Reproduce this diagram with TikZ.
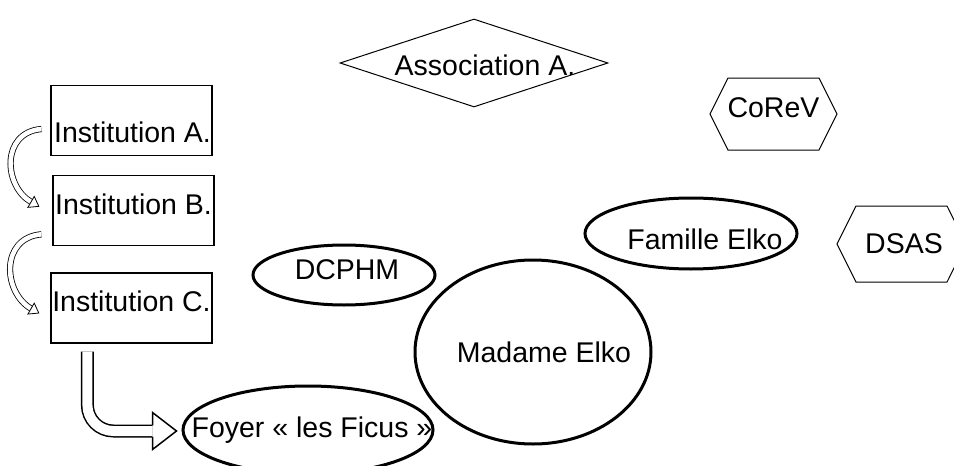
\documentclass[tikz,border=0pt]{standalone}
\usepackage{fontspec}
\setmainfont{Liberation Sans}
\usepackage{tikz}
\tikzset{inst node/.style={rectangle,draw,line width=0.6pt,minimum width=80.5pt,minimum height=35pt,inner sep=0pt},
	oval node/.style={ellipse,draw,line width=1.5pt,inner sep=0pt},
	hex node/.style={signal,signal to=west and east,signal pointer angle=127,draw,line width=0.5pt,inner sep=0pt},
	asso node/.style={diamond,draw,line width=0.5pt,inner sep=0pt,aspect=3,minimum width=134pt,minimum height=44pt},
	turn arrow/.style={double=white,double distance=2.3pt,line width=0.4pt,-{Triangle[open,length=5pt,width=7pt]}},
	bent shaft/.style={double=white,double distance=5pt,line width=0.75pt,rounded corners=13pt},
	every label/.style={inner sep=0pt,text depth=0pt},
}
\usetikzlibrary{positioning,calc,shapes.geometric,shapes.symbols,arrows.meta}

\begin{document}
\begin{tikzpicture}[x=0.5pt,y=-0.5pt,font=\fontsize{14.25pt}{17pt}\selectfont]
			\path[use as bounding box,clip] (0,0) rectangle (954,466);
			
			%% institutions
			\node[inst node] (instA) at (131.5,120.5) [label={[xshift=0.5pt,yshift=-5.75pt]center:Institution A.}] {};
			\node[inst node] (instB) [below = 9.5pt of instA, xshift=1pt, label={[yshift=3.5pt]center:Institution B.}] {};
			\node[inst node] (instC) [below = 13pt of instB, xshift=-1pt, label={[yshift=3.5pt]center:Institution C.}] {};
			
			%% others
			\node[asso node] (asso) at (474,63) [label={[xshift=5.5pt,yshift=-1pt]center:Association A.}] {};
			\node[hex node,minimum width=63.5pt,minimum height=36pt] (corev) at (773.5,114) [label={[yshift=3.25pt]center:CoReV}] {};
			\node[hex node,minimum width=64.5pt,minimum height=38pt] (dsas) at (901.5,244) [label={[xshift=1.25pt]center:DSAS}] {};
			\node[oval node,minimum width=106pt,minimum height=35.5pt] (famille) at (691,233.5) [label={[xshift=7pt,yshift=-3pt]center:Famille Elko}] {};
			\node[oval node,minimum width=91pt,minimum height=30pt] (dcphm) at (344,275) [label={[xshift=1.5pt,yshift=2.5pt]center:DCPHM}] {};
			\node[oval node,minimum width=118pt,minimum height=92pt] (madame) at (533,352) [label={[xshift=5.5pt]center:Madame Elko}] {};
			\node[oval node,minimum width=125pt,minimum height=44pt] (foyer) at (308,430) [label={[xshift=2pt,yshift=1.25pt]center:Foyer « les Ficus »}] {};
			
			%% arrows
			\draw[turn arrow] ($(instA.west)+(-9,8.5)$) to[out=185,in=150,looseness=1.35] ($(instB.west)+(-13,-4)$);
			\draw[turn arrow] ($(instB.south west)+(-11,-12)$) to[out=185,in=150,looseness=1.35] ($(instC.west)+(-11,5.5)$);
			\coordinate (tip) at ($(foyer.west)+(-5,1)$);
			\draw[bent shaft] ($(instC.south west)+(37,8)$) |- ($(tip)+(-24,0)$);
			\filldraw[fill=white,line width=0.75pt] ($(tip)+(-24,-5.75)$) -- ++(0,-12.75) -- (tip) -- ($(tip)+(-24,18.5)$) -- ++(0,-12.75);
			\end{tikzpicture}
\end{document}
